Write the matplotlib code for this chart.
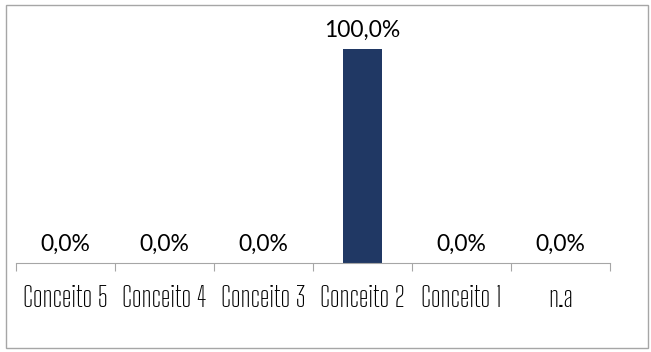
import numpy as np
import matplotlib.pyplot as plt
from matplotlib.patches import Rectangle

categorias = ['Conceito 5', 'Conceito 4', 'Conceito 3', 'Conceito 2', 'Conceito 1', 'n.a']
valores = [0.0, 0.0, 0.0, 1.0, 0.0, 0.0]
rotulos = ['0,0%', '0,0%', '0,0%', '100,0%', '0,0%', '0,0%']

fig = plt.figure(figsize=(6.51, 3.52), dpi=100)
# moldura externa
fig.patches.append(Rectangle((6 / 651, 4 / 352), 642 / 651, 343 / 352, transform=fig.transFigure,
                             fill=False, edgecolor='#a6a6a6', linewidth=1.0))

ax = fig.add_axes([16 / 651, 1 - 263 / 352, 594 / 651, (263 - 49) / 352])
x = np.arange(len(categorias))
ax.bar(x, valores, width=0.4, color='#203864')
ax.set_xlim(-0.5, len(categorias) - 0.5)
ax.set_ylim(0, 1)

for xi, v, r in zip(x, valores, rotulos):
    ax.annotate(r, (xi, v), xytext=(0, 6), textcoords='offset points',
                ha='center', va='bottom', fontsize=16.5, family='Lato', color='#000000')

for s in ['top', 'right', 'left']:
    ax.spines[s].set_visible(False)
ax.spines['bottom'].set_color('#a6a6a6')
ax.set_yticks([])
ax.set_xticks(np.arange(-0.5, len(categorias)), minor=False)
ax.set_xticklabels([])
ax.tick_params(axis='x', length=6, color='#a6a6a6', direction='out')
ax.set_xticks(x, minor=True)
ax.set_xticklabels(categorias, minor=True, family='Big Shoulders Text', fontsize=20.5,
                   fontweight='semibold', color='#000000')
ax.tick_params(axis='x', which='minor', length=0, pad=16)

fig.savefig('out.png', dpi=100)
